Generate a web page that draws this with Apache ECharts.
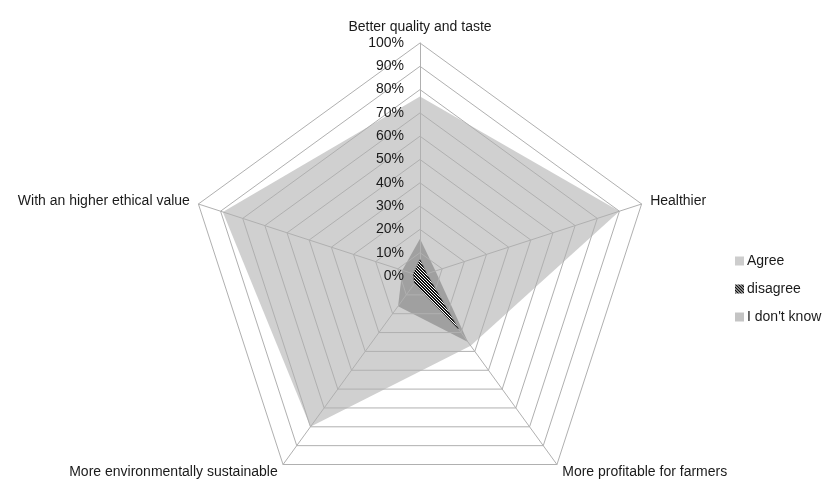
<!DOCTYPE html>
<html>
<head>
<meta charset="utf-8">
<script src="https://cdn.jsdelivr.net/npm/echarts@6/dist/echarts.min.js"></script>
<style>
  html, body { margin: 0; padding: 0; background: #ffffff; }
  #chart { width: 823px; height: 481px; }
</style>
</head>
<body>
<div id="chart"></div>
<script>
// Radar axes, listed counter-clockwise from the top
const indicatorNames = [
  'Better quality and taste',
  'With an higher ethical value',
  'More environmentally sustainable',
  'More profitable for farmers',
  'Healthier'
];
const axisMax = 100;

// Share of answers (%) per axis, same order as indicatorNames
const agreeValues    = [77, 89, 80, 37, 90];
const disagreeValues = [7, 3, 4, 28, 3];
const dontKnowValues = [16, 8, 16, 35, 7];

const seriesNames = ['Agree', 'disagree', "I don't know"];

// Dense diagonal hatch fill for the "disagree" area
function makeHatch() {
  const c = document.createElement('canvas');
  c.width = 3; c.height = 3;
  const ctx = c.getContext('2d');
  ctx.fillStyle = '#ffffff';
  ctx.fillRect(0, 0, 3, 3);
  ctx.fillStyle = '#111111';
  for (let i = 0; i < 3; i++) {
    ctx.fillRect(i, i, 1, 1);
    ctx.fillRect((i + 1) % 3, i, 1, 1);
  }
  return c;
}
const hatch = { image: makeHatch(), repeat: 'repeat' };

const chart = echarts.init(document.getElementById('chart'), null, { renderer: 'canvas' });

const font = 'Liberation Sans, Arial, sans-serif';
const gridColor = '#b0b0b0';
const center = [420, 276];
const radius = 233;

chart.setOption({
  animation: false,
  backgroundColor: '#ffffff',
  legend: {
    orient: 'vertical',
    left: 730,
    top: 249,
    itemWidth: 9,
    itemHeight: 9,
    itemGap: 14,
    icon: 'rect',
    textStyle: { fontFamily: font, fontSize: 14, color: '#1a1a1a', padding: [0, 0, 0, -2] },
    data: [
      { name: seriesNames[0], itemStyle: { color: '#cdcdcd' } },
      { name: seriesNames[1], itemStyle: { color: hatch } },
      { name: seriesNames[2], itemStyle: { color: '#c4c4c4' } }
    ]
  },
  radar: [
    {
      center: center,
      radius: radius,
      startAngle: 90,
      shape: 'polygon',
      splitNumber: 10,
      indicator: indicatorNames.map(n => ({ name: n, max: axisMax, min: 0 })),
      axisName: { color: '#1a1a1a', fontFamily: font, fontSize: 14 },
      nameGap: 9,
      axisLine: { lineStyle: { color: gridColor, width: 1 } },
      splitLine: { lineStyle: { color: gridColor, width: 1 } },
      splitArea: { show: false },
      axisTick: { show: false },
      axisLabel: { show: false },
      z: 3
    },
    {
      // percentage scale along the top axis only
      center: center,
      radius: radius,
      startAngle: 90,
      shape: 'polygon',
      splitNumber: 10,
      indicator: [{ name: '', max: axisMax, min: 0 }],
      axisLine: { show: false },
      splitLine: { show: false },
      splitArea: { show: false },
      axisTick: { show: false },
      axisLabel: {
        show: true,
        formatter: '{value}%',
        color: '#1a1a1a',
        fontFamily: font,
        fontSize: 14,
        margin: 16
      },
      z: 10
    }
  ],
  series: [
    {
      type: 'radar',
      radarIndex: 0,
      name: seriesNames[0],
      symbol: 'none',
      z: 1,
      lineStyle: { width: 0 },
      itemStyle: { color: '#cdcdcd' },
      areaStyle: { color: '#d0d0d0', opacity: 1 },
      data: [{ value: agreeValues, name: seriesNames[0] }]
    },
    {
      type: 'radar',
      radarIndex: 0,
      name: seriesNames[2],
      symbol: 'none',
      z: 2,
      lineStyle: { width: 0 },
      itemStyle: { color: '#c4c4c4' },
      areaStyle: { color: '#a0a0a0', opacity: 1 },
      data: [{ value: dontKnowValues, name: seriesNames[2] }]
    },
    {
      type: 'radar',
      radarIndex: 0,
      name: seriesNames[1],
      symbol: 'none',
      z: 4,
      lineStyle: { width: 0.6, color: '#333333' },
      itemStyle: { color: hatch },
      areaStyle: { color: hatch, opacity: 1 },
      data: [{ value: disagreeValues, name: seriesNames[1] }]
    }
  ]
});
</script>
</body>
</html>
